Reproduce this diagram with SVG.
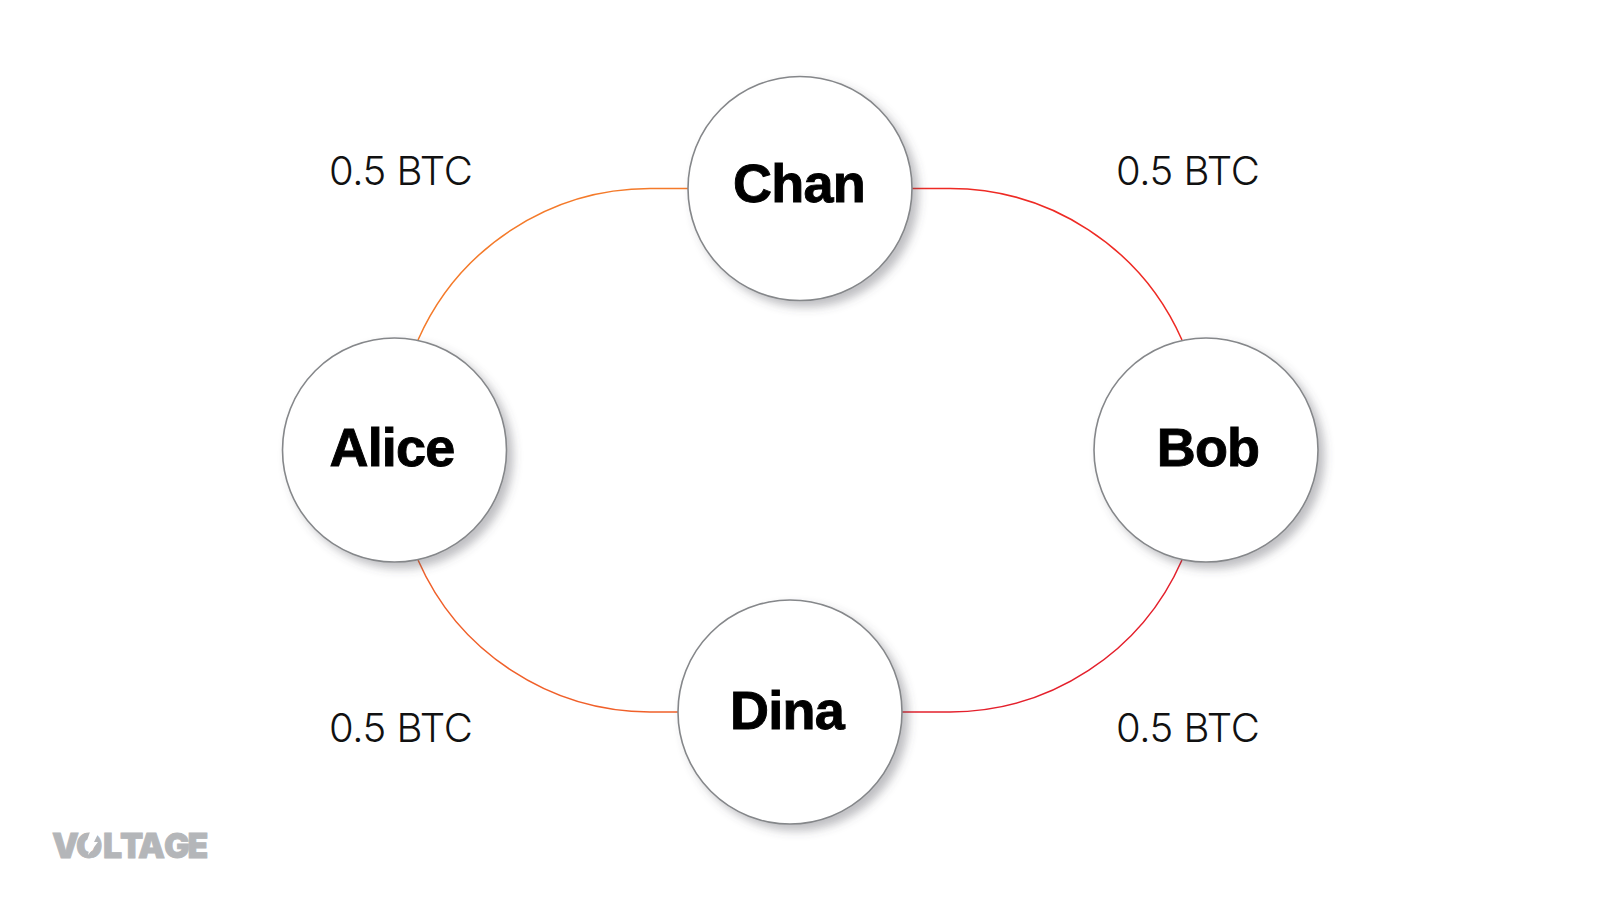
<svg xmlns="http://www.w3.org/2000/svg" width="1600" height="900" viewBox="0 0 1600 900">
<style>
.n{fill:#fff;stroke:#85878a;stroke-width:1.6;filter:url(#sh)}
.t{font-family:"Liberation Sans",Arial,sans-serif;font-weight:700;font-size:54px;fill:#000;stroke:#000;stroke-width:.9;text-anchor:middle;letter-spacing:-.8px}
.b{font-family:Inter,"Liberation Sans",sans-serif;font-weight:300;font-size:40px;fill:#111;letter-spacing:-.45px}
.c{fill:none;stroke-width:1.5}
</style>
<defs>
<filter id="sh" x="-20%" y="-20%" width="150%" height="150%">
<feDropShadow dx="6" dy="6" stdDeviation="5" flood-color="#50505a" flood-opacity=".36"/>
</filter>
</defs>
<rect width="1600" height="900" fill="#fff"/>
<g id="connectors">
<path class="c" stroke="#f47a2a" d="M418 340A254 254 0 0 1 650 188.500H690"/>
<path class="c" stroke="#ee2a24" d="M910 188.500H950A254 254 0 0 1 1182 340"/>
<path class="c" stroke="#f0602a" d="M418 560A254 254 0 0 0 650 712H680"/>
<path class="c" stroke="#e4202c" d="M900 712H950A254 254 0 0 0 1182 560"/>
</g>
<g id="chan"><circle class="n" cx="800" cy="188.500" r="112"/><text class="t" x="799" y="202">Chan</text></g>
<g id="alice"><circle class="n" cx="394.500" cy="450" r="112"/><text class="t" x="392" y="466">Alice</text></g>
<g id="bob"><circle class="n" cx="1206" cy="450" r="112"/><text class="t" x="1208" y="466">Bob</text></g>
<g id="dina"><circle class="n" cx="790" cy="712" r="112"/><text class="t" x="787" y="729">Dina</text></g>
<g id="labels">
<text class="b" x="329" y="185">0.5 BTC</text>
<text class="b" x="1116" y="185">0.5 BTC</text>
<text class="b" x="329" y="742">0.5 BTC</text>
<text class="b" x="1116" y="742">0.5 BTC</text>
</g>
<g id="logo">
<text x="52 76 103 120 138 164 187.500" y="858" font-family="Inter,'Liberation Sans',sans-serif" font-weight="900" font-size="34" fill="#b4b6b9" stroke="#b4b6b9" stroke-width=".8">VOLTAGE</text>
<polygon points="90,832 99,832 94,842 98,842 88,855 90,846 85,846" fill="#fff"/>
</g>
</svg>
